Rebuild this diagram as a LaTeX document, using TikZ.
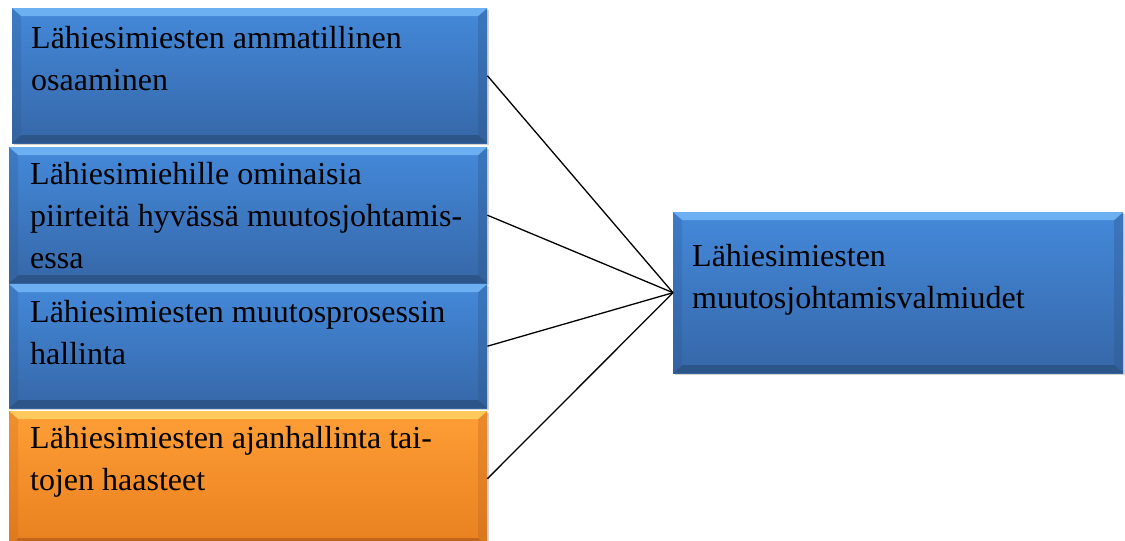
\documentclass[tikz,border=0pt]{standalone}
\usepackage{fontspec}
\setmainfont{Liberation Serif}
\usetikzlibrary{shadows}
\definecolor{bluetop}{HTML}{4489DA}
\definecolor{bluebot}{HTML}{3667A8}
\definecolor{bluelight}{HTML}{6DB0F2}
\definecolor{bluedark}{HTML}{2C5689}
\definecolor{orangetop}{HTML}{FF9E36}
\definecolor{orangebot}{HTML}{E8801F}
\definecolor{orangelight}{HTML}{FFC95C}
\definecolor{orangedark}{HTML}{C0661A}
\tikzset{
  bevelbox/.style n args={4}{
    rectangle, inner sep=0pt, anchor=north west,
    top color=#1, bottom color=#2,
    drop shadow={opacity=0.35, shadow xshift=2pt, shadow yshift=-2pt},
    path picture={
      \fill[#3] (path picture bounding box.north west) -- (path picture bounding box.north east)
        -- ([xshift=-9pt,yshift=-8pt]path picture bounding box.north east)
        -- ([xshift=9pt,yshift=-8pt]path picture bounding box.north west) -- cycle;
      \fill[#4] (path picture bounding box.south west) -- (path picture bounding box.south east)
        -- ([xshift=-9pt,yshift=8pt]path picture bounding box.south east)
        -- ([xshift=9pt,yshift=8pt]path picture bounding box.south west) -- cycle;
      \fill[#4, opacity=0.35] (path picture bounding box.north east) -- (path picture bounding box.south east)
        -- ([xshift=-9pt,yshift=8pt]path picture bounding box.south east)
        -- ([xshift=-9pt,yshift=-8pt]path picture bounding box.north east) -- cycle;
      \fill[#4, opacity=0.25] (path picture bounding box.north west) -- (path picture bounding box.south west)
        -- ([xshift=9pt,yshift=8pt]path picture bounding box.south west)
        -- ([xshift=9pt,yshift=-8pt]path picture bounding box.north west) -- cycle;
    }
  },
  bluebox/.style={bevelbox={bluetop}{bluebot}{bluelight}{bluedark}},
  orangebox/.style={bevelbox={orangetop}{orangebot}{orangelight}{orangedark}},
  boxtext/.style={anchor=base west, align=left, inner sep=0pt, text=black,
    font={\fontsize{32}{42}\selectfont}},
  link/.style={draw=black, line width=1.3pt}
}
\begin{document}
\begin{tikzpicture}[x=1pt,y=-1pt]
\useasboundingbox (0,0) rectangle (1125,541);
% boxes
\node[bluebox, minimum width=475pt, minimum height=135pt] (b1) at (12,8) {};
\node[bluebox, minimum width=478pt, minimum height=136pt] (b2) at (9,147) {};
\node[bluebox, minimum width=478pt, minimum height=124pt] (b3) at (9,284) {};
\node[orangebox, minimum width=478pt, minimum height=135pt] (b4) at (9,411) {};
\node[bluebox, minimum width=450pt, minimum height=161pt] (r) at (673,212) {};
% texts (anchor = baseline of the last line)
\node[boxtext] (t1) at (31,90) {Lähiesimiesten ammatillinen\\osaaminen};
\node[boxtext] (t2) at (30,268) {Lähiesimiehille ominaisia\\piirteitä hyvässä muutosjohtamis-\\essa};
\node[boxtext] (t3) at (30,364) {Lähiesimiesten muutosprosessin\\hallinta};
\node[boxtext] (t4) at (30,490) {Lähiesimiesten ajanhallinta tai-\\tojen haasteet};
\node[boxtext] (tr) at (692,308) {Lähiesimiesten\\muutosjohtamisvalmiudet};
% connectors
\draw[link] (b1.east) -- (r.west);
\draw[link] (b2.east) -- (r.west);
\draw[link] (b3.east) -- (r.west);
\draw[link] (b4.east) -- (r.west);
\end{tikzpicture}
\end{document}
